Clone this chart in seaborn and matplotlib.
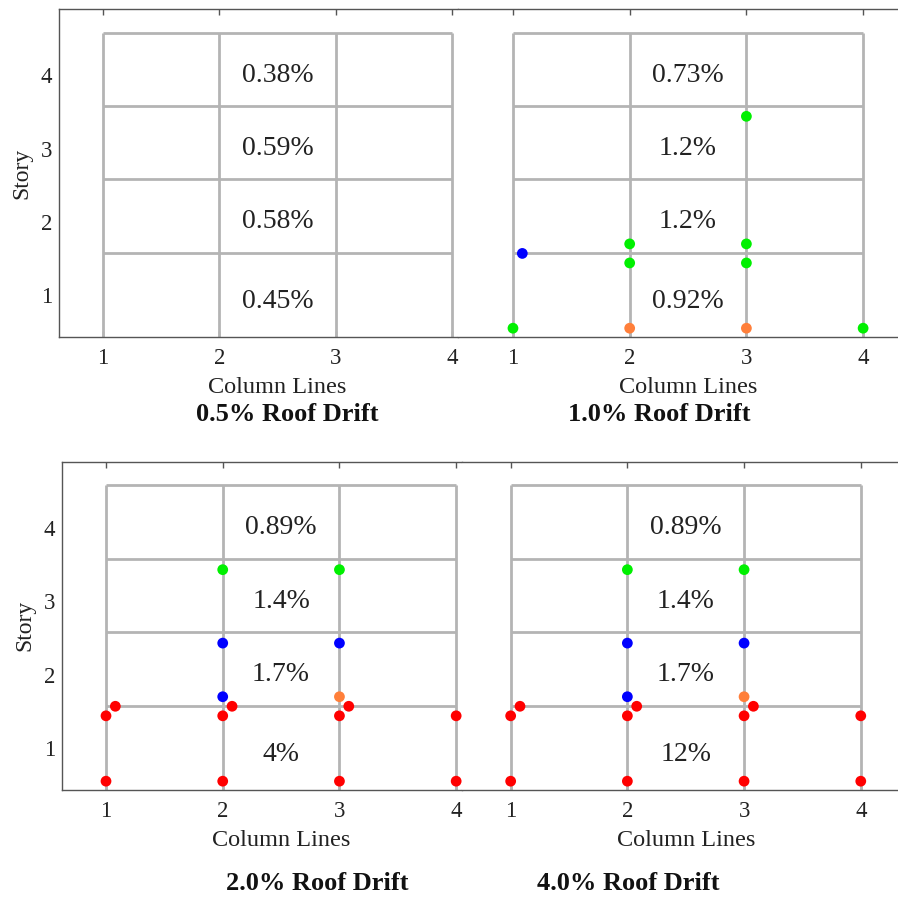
import pandas as pd
import seaborn as sns
import matplotlib.pyplot as plt

# frame geometry (column lines and floor levels)
column_lines = [1, 2, 3, 4]
floor_levels = [1.58, 2.58, 3.58, 4.58]
story_ticks = [1, 2, 3, 4]
label_y = [0.92, 2, 3, 4]

panel_titles = ["0.5% Roof Drift", "1.0% Roof Drift", "2.0% Roof Drift", "4.0% Roof Drift"]

# story drift labels, story 1 -> 4
drift_05 = ["0.45%", "0.58%", "0.59%", "0.38%"]
drift_10 = ["0.92%", "1.2%", "1.2%", "0.73%"]
drift_20 = ["4%", "1.7%", "1.4%", "0.89%"]
drift_40 = ["12%", "1.7%", "1.4%", "0.89%"]

# plastic hinge locations and states
hinge_x_05 = []
hinge_y_05 = []
hinge_s_05 = []

hinge_x_10 = [3, 2, 3, 2, 3, 1.08, 1, 2, 3, 4]
hinge_y_10 = [3.44, 1.70, 1.70, 1.44, 1.44, 1.57, 0.55, 0.55, 0.55, 0.55]
hinge_s_10 = ["IO", "IO", "IO", "IO", "IO", "LS", "IO", "CP", "CP", "IO"]

hinge_x_20 = [2, 3, 2, 3, 2, 3, 1.08, 2.08, 3.08, 1, 2, 3, 4, 1, 2, 3, 4]
hinge_y_20 = [3.43, 3.43, 2.43, 2.43, 1.70, 1.70, 1.57, 1.57, 1.57,
              1.44, 1.44, 1.44, 1.44, 0.55, 0.55, 0.55, 0.55]
hinge_s_20 = ["IO", "IO", "LS", "LS", "LS", "CP", "C", "C", "C",
              "C", "C", "C", "C", "C", "C", "C", "C"]

hinge_x_40 = [2, 3, 2, 3, 2, 3, 1.08, 2.08, 3.08, 1, 2, 3, 4, 1, 2, 3, 4]
hinge_y_40 = [3.43, 3.43, 2.43, 2.43, 1.70, 1.70, 1.57, 1.57, 1.57,
              1.44, 1.44, 1.44, 1.44, 0.55, 0.55, 0.55, 0.55]
hinge_s_40 = ["IO", "IO", "LS", "LS", "LS", "CP", "C", "C", "C",
              "C", "C", "C", "C", "C", "C", "C", "C"]

palette = {"IO": "#00f000", "LS": "#0000ff", "CP": "#ff7f3a", "C": "#ff0000"}
frame_color = "#b4b4b4"

sns.set_theme(style="white")
plt.rcParams["font.family"] = ["Liberation Serif", "DejaVu Serif"]

W, H = 898, 899
fig = plt.figure(figsize=(W / 100, H / 100), dpi=100)

# panel boxes in pixels: left, right, top, bottom, xlim
panels = [
    dict(px=(59, 458, 9.3, 337), xlim=(0.622, 4.052), drift=drift_05,
         hx=hinge_x_05, hy=hinge_y_05, hs=hinge_s_05, left=True,
         title_xy=(287, 415)),
    dict(px=(458, 898, 9.3, 337), xlim=(0.529, 4.299), drift=drift_10,
         hx=hinge_x_10, hy=hinge_y_10, hs=hinge_s_10, left=False,
         title_xy=(659, 415)),
    dict(px=(62, 462, 461.7, 790), xlim=(0.623, 4.05), drift=drift_20,
         hx=hinge_x_20, hy=hinge_y_20, hs=hinge_s_20, left=True,
         title_xy=(317, 883)),
    dict(px=(462, 898, 461.7, 790), xlim=(0.583, 4.319), drift=drift_40,
         hx=hinge_x_40, hy=hinge_y_40, hs=hinge_s_40, left=False,
         title_xy=(628, 883)),
]

for i, p in enumerate(panels):
    l, r, t, b = p["px"]
    ax = fig.add_axes([l / W, 1 - b / H, (r - l) / W, (b - t) / H])
    ax.set_xlim(*p["xlim"])
    ax.set_ylim(0.43, 4.9)

    # frame
    ax.vlines(column_lines, 0, floor_levels[-1], color=frame_color, lw=2.0, zorder=1)
    ax.hlines(floor_levels, column_lines[0], column_lines[-1], color=frame_color, lw=2.0, zorder=1)

    # hinges
    if p["hx"]:
        df = pd.DataFrame({"x": p["hx"], "y": p["hy"], "state": p["hs"]})
        sns.scatterplot(data=df, x="x", y="y", hue="state", palette=palette,
                        s=60, linewidth=0, legend=False, ax=ax, zorder=3, clip_on=False)

    for yy, txt in zip(label_y, p["drift"]):
        ax.text(2.5, yy, txt, ha="center", va="center", fontsize=20, color="#222222")

    ax.set_xticks(column_lines)
    ax.set_xticklabels([str(c) for c in column_lines])
    ax.tick_params(axis="x", direction="in", length=4, width=1, colors="#555555",
                   labelcolor="#222222", labelsize=16.5, pad=8, top=True, bottom=True)
    ax.set_xlabel("Column Lines", fontsize=17.5, color="#222222", labelpad=6)
    ax.xaxis.label.set_x((2.5 - p["xlim"][0]) / (p["xlim"][1] - p["xlim"][0]))

    for side in ["top", "bottom", "left", "right"]:
        ax.spines[side].set_color("#555555")
        ax.spines[side].set_linewidth(1.0)
    ax.spines["right"].set_visible(False)

    if p["left"]:
        ax.set_yticks(story_ticks)
        ax.set_yticklabels([str(s) for s in story_ticks])
        ax.tick_params(axis="y", direction="in", length=4, width=1, colors="#555555",
                       labelcolor="#222222", labelsize=16.5, pad=5)
        ax.set_ylabel("Story", fontsize=17, color="#222222", labelpad=6)
    else:
        ax.spines["left"].set_visible(False)
        ax.set_yticks([])
        ax.set_ylabel("")

    tx, ty = p["title_xy"]
    fig.text(tx / W, 1 - ty / H, panel_titles[i], ha="center", va="center",
             fontsize=19, fontweight="bold", color="#111111")

fig.savefig("out.png", dpi=100)
